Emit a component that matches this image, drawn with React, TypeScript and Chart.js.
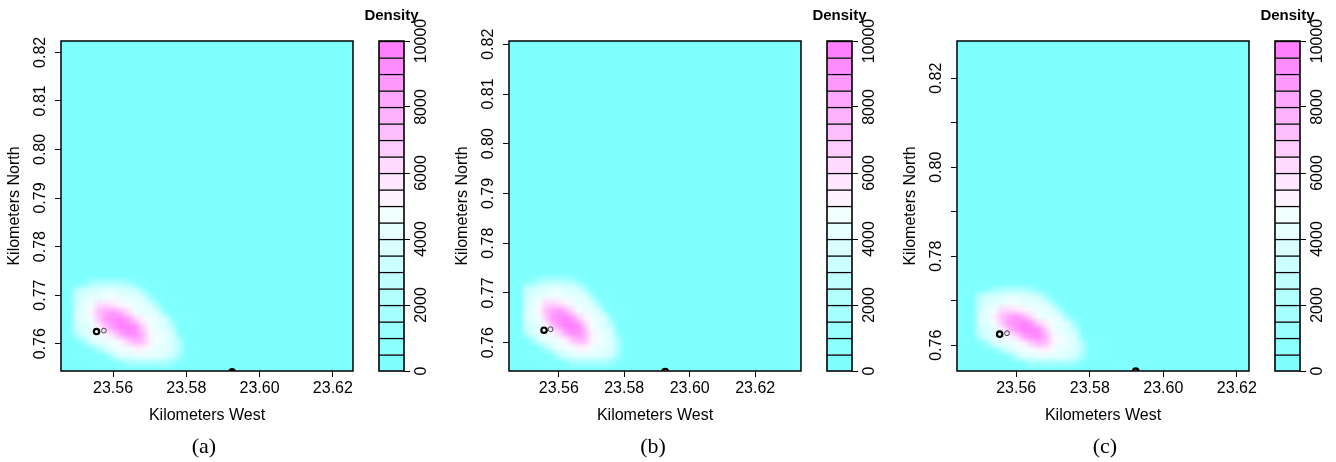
import React, { useEffect, useRef } from 'react';
import { Chart, registerables } from 'chart.js';

Chart.register(...registerables);

const SANS = "'Liberation Sans', Arial, Helvetica, sans-serif";
const SERIF = "'Liberation Serif', 'Times New Roman', serif";

// ---------------- data ----------------
const PANEL_TAGS = ['(a)', '(b)', '(c)'];

// axis limits (km) of each panel
const X_LIMITS = [
  [23.5458, 23.6255],
  [23.5448, 23.634],
  [23.5439, 23.6233],
];
const Y_LIMITS = [
  [0.75438, 0.82233],
  [0.7543, 0.82066],
  [0.75422, 0.82838],
];

const X_TICKS = [23.56, 23.58, 23.6, 23.62];
const X_TICK_LABELS = ['23.56', '23.58', '23.60', '23.62'];
const Y_TICKS = [0.76, 0.77, 0.78, 0.79, 0.8, 0.81, 0.82];
const Y_TICK_LABELS = [
  ['0.76', '0.77', '0.78', '0.79', '0.80', '0.81', '0.82'],
  ['0.76', '0.77', '0.78', '0.79', '0.80', '0.81', '0.82'],
  ['0.76', '', '0.78', '', '0.80', '', '0.82'],
];

// colour key
const DENSITY_BREAKS = [
  0, 500, 1000, 1500, 2000, 2500, 3000, 3500, 4000, 4500, 5000,
  5500, 6000, 6500, 7000, 7500, 8000, 8500, 9000, 9500, 10000,
];
const DENSITY_TICKS = [0, 2000, 4000, 6000, 8000, 10000];
const DENSITY_COLORS = [
  '#80FFFF', '#8CFFFF', '#99FFFF', '#A6FFFF', '#B3FFFF',
  '#BFFFFF', '#CCFFFF', '#D9FFFF', '#E6FFFF', '#F2FFFF',
  '#FFF2FF', '#FFE6FF', '#FFD9FF', '#FFCCFF', '#FFBFFF',
  '#FFB3FF', '#FFA6FF', '#FF99FF', '#FF8CFF', '#FF80FF',
];

// density surface: cell centres (km) and values (thousands)
const GRID_X = [
  23.548, 23.55, 23.552, 23.554, 23.556, 23.558, 23.56, 23.562, 23.564,
  23.566, 23.568, 23.57, 23.572, 23.574, 23.576, 23.578, 23.58,
];
const GRID_Y = [
  0.774, 0.7725, 0.771, 0.7695, 0.768, 0.7665, 0.765,
  0.7635, 0.762, 0.7605, 0.759, 0.7575, 0.756, 0.7545,
];
const DENSITY_K = [
  [0, 0, 0, 0, 0, 0, 0, 0, 0, 0, 0, 0, 0, 0, 0, 0, 0],
  [0, 0, 0.5, 1.5, 2, 2, 2, 2, 1.5, 0.5, 0, 0, 0, 0, 0, 0, 0],
  [0, 2.5, 3.4, 3.8, 3.9, 4.0, 4.0, 3.9, 3.8, 3.4, 1.5, 0, 0, 0, 0, 0, 0],
  [0, 3.2, 3.8, 4.1, 4.3, 4.5, 4.5, 4.4, 4.2, 4.0, 3.6, 1.5, 0, 0, 0, 0, 0],
  [0, 3.4, 4.0, 4.5, 6.0, 6.3, 5.8, 5.2, 4.6, 4.3, 4.0, 3.5, 1.5, 0, 0, 0, 0],
  [0, 3.5, 4.1, 5.2, 7.4, 8.4, 8.5, 7.6, 6.0, 4.8, 4.4, 4.0, 3.5, 1, 0, 0, 0],
  [0, 3.5, 4.0, 4.8, 6.6, 8.8, 9.4, 9.5, 8.9, 6.8, 5.3, 4.5, 4.1, 3.5, 1, 0, 0],
  [0, 3.2, 3.9, 4.4, 5.4, 7.0, 8.9, 9.6, 9.6, 9.0, 6.6, 4.9, 4.4, 3.9, 2.5, 0, 0],
  [0, 2.5, 3.6, 4.1, 4.5, 5.0, 6.2, 8.3, 9.2, 9.1, 7.8, 5.4, 4.5, 4.1, 3.5, 0.5, 0],
  [0, 0, 1.5, 3.5, 4.0, 4.4, 4.8, 5.4, 6.6, 7.6, 7.0, 5.2, 4.5, 4.1, 3.7, 2, 0],
  [0, 0, 0, 0.5, 2.0, 3.6, 4.1, 4.5, 4.9, 5.4, 5.2, 4.6, 4.3, 4.0, 3.6, 2, 0],
  [0, 0, 0, 0, 0, 0.5, 2.5, 3.6, 3.9, 4.1, 4.2, 4.1, 4.0, 3.8, 3.3, 1.5, 0],
  [0, 0, 0, 0, 0, 0, 0, 0.5, 1.5, 1.5, 1.5, 1.5, 1.5, 1.5, 1, 0, 0],
  [0, 0, 0, 0, 0, 0, 0, 0, 0, 0, 0, 0, 0, 0, 0, 0, 0],
];

// marked locations (km)
const RING_X = [23.5555];
const RING_Y = [0.7625];
const SMALL_X = [23.5575];
const SMALL_Y = [0.7627];
const EDGE_X = [23.5925];
const EDGE_Y = [0.7542];

// ---------------- layout ----------------
const PLOT_LEFT = [61, 509, 957];
const BAR_LEFT = [379, 827, 1275];
const TAG_CENTER = [204, 653, 1105];
const HEAT_W = 365;
const BAR_PAD = 32;
const BAR_W = 25;
const CANVAS_H = 462;

function densityColor(v: number): string {
  for (let k = DENSITY_COLORS.length - 1; k >= 0; k--) {
    if (v >= DENSITY_BREAKS[k]) return DENSITY_COLORS[k];
  }
  return DENSITY_COLORS[0];
}

const densityField = {
  id: 'densityField',
  beforeDatasetsDraw(chart: any) {
    const { ctx, chartArea: a } = chart;
    const xs = chart.scales.x;
    const ys = chart.scales.y;
    ctx.save();
    ctx.beginPath();
    ctx.rect(a.left, a.top, a.right - a.left, a.bottom - a.top);
    ctx.clip();
    ctx.fillStyle = DENSITY_COLORS[0];
    ctx.fillRect(a.left, a.top, a.right - a.left, a.bottom - a.top);

    const raster = document.createElement('canvas');
    raster.width = GRID_X.length;
    raster.height = GRID_Y.length;
    const rc = raster.getContext('2d')!;
    DENSITY_K.forEach((row, j) =>
      row.forEach((d, i) => {
        rc.fillStyle = densityColor(d * 1000);
        rc.fillRect(i, j, 1, 1);
      })
    );
    const hx = (GRID_X[1] - GRID_X[0]) / 2;
    const hy = (GRID_Y[0] - GRID_Y[1]) / 2;
    const x0 = xs.getPixelForValue(GRID_X[0] - hx);
    const x1 = xs.getPixelForValue(GRID_X[GRID_X.length - 1] + hx);
    const y0 = ys.getPixelForValue(GRID_Y[0] + hy);
    const y1 = ys.getPixelForValue(GRID_Y[GRID_Y.length - 1] - hy);
    ctx.imageSmoothingEnabled = true;
    ctx.drawImage(raster, x0, y0, x1 - x0, y1 - y0);
    ctx.restore();
  },
};

const frame = {
  id: 'frame',
  afterDatasetsDraw(chart: any, _args: any, opts: any) {
    const { ctx, chartArea: a } = chart;
    ctx.save();
    ctx.strokeStyle = '#000';
    ctx.lineWidth = opts && opts.width ? opts.width : 1.5;
    ctx.strokeRect(a.left, a.top, a.right - a.left, a.bottom - a.top);
    ctx.restore();
  },
};

const tickFont = { family: SANS, size: 16 };
const tickGrid = {
  drawOnChartArea: false,
  drawTicks: true,
  tickLength: 6,
  color: '#000',
  lineWidth: 1,
};

function markerSet(xs: number[], ys: number[], radius: number, width: number, color: string) {
  return {
    data: xs.map((x, i) => ({ x, y: ys[i] })),
    pointStyle: 'circle',
    pointRadius: radius,
    pointBorderWidth: width,
    borderColor: color,
    backgroundColor: 'rgba(0,0,0,0)',
    clip: 0,
  };
}

function heatConfig(p: number): any {
  return {
    type: 'scatter',
    data: {
      datasets: [
        markerSet(RING_X, RING_Y, 2.7, 2.2, '#000'),
        markerSet(SMALL_X, SMALL_Y, 2.4, 0.9, '#333'),
        markerSet(EDGE_X, EDGE_Y, 2.6, 2.4, '#000'),
      ],
    },
    options: {
      animation: false,
      responsive: false,
      devicePixelRatio: 1,
      events: [],
      layout: { padding: { left: 0, top: 41, right: 12, bottom: 0 } },
      plugins: {
        legend: { display: false },
        tooltip: { enabled: false },
        frame: { width: 1.5 },
      },
      scales: {
        x: {
          type: 'linear',
          min: X_LIMITS[p][0],
          max: X_LIMITS[p][1],
          afterBuildTicks: (s: any) => {
            s.ticks = X_TICKS.map((value) => ({ value }));
          },
          afterFit: (s: any) => {
            s.height = 91;
            s.paddingLeft = 0;
            s.paddingRight = 0;
          },
          ticks: {
            font: tickFont,
            color: '#000',
            padding: 1.5,
            maxRotation: 0,
            minRotation: 0,
            autoSkip: false,
            callback: (_v: any, i: number) => X_TICK_LABELS[i],
          },
          grid: tickGrid,
          border: { display: false },
          title: {
            display: true,
            text: 'Kilometers West',
            font: tickFont,
            color: '#000',
            padding: { top: 0, bottom: 36.5 },
          },
        },
        y: {
          type: 'linear',
          min: Y_LIMITS[p][0],
          max: Y_LIMITS[p][1],
          afterBuildTicks: (s: any) => {
            s.ticks = Y_TICKS.map((value) => ({ value }));
          },
          afterFit: (s: any) => {
            s.width = 61;
            s.paddingTop = 0;
            s.paddingBottom = 0;
          },
          ticks: {
            font: tickFont,
            color: '#000',
            minRotation: 90,
            maxRotation: 90,
            crossAlign: 'center',
            padding: -1.1,
            autoSkip: false,
            callback: (_v: any, i: number) => Y_TICK_LABELS[p][i],
          },
          grid: tickGrid,
          border: { display: false },
          title: {
            display: true,
            text: 'Kilometers North',
            font: tickFont,
            color: '#000',
            padding: { top: 5, bottom: 0 },
          },
        },
      },
    },
    plugins: [densityField, frame],
  };
}

function keyConfig(): any {
  return {
    type: 'bar',
    data: {
      labels: [''],
      datasets: DENSITY_COLORS.map((c, k) => ({
        data: [[DENSITY_BREAKS[k], DENSITY_BREAKS[k + 1]]],
        backgroundColor: c,
        borderColor: '#000',
        borderWidth: { top: 1.5, right: 0, bottom: 0, left: 0 },
        borderSkipped: false,
        grouped: false,
        barPercentage: 1,
        categoryPercentage: 1,
        xAxisID: 'x',
        yAxisID: 'y',
      })),
    },
    options: {
      animation: false,
      responsive: false,
      devicePixelRatio: 1,
      events: [],
      layout: { padding: { left: 0, top: 0, right: 0, bottom: 91 } },
      plugins: {
        legend: { display: false },
        tooltip: { enabled: false },
        frame: { width: 1.6 },
        title: {
          display: true,
          text: 'Density',
          color: '#000',
          font: { family: SANS, size: 15, weight: 'bold' },
          padding: { top: 6.5, bottom: 16.5 },
        },
      },
      scales: {
        x: { type: 'category', display: false },
        pad: {
          type: 'linear',
          axis: 'y',
          position: 'left',
          display: true,
          ticks: { display: false },
          grid: { display: false },
          border: { display: false },
          afterFit: (s: any) => {
            s.width = BAR_PAD;
            s.paddingTop = 0;
            s.paddingBottom = 0;
          },
        },
        y: {
          type: 'linear',
          position: 'right',
          min: 0,
          max: 10000,
          afterBuildTicks: (s: any) => {
            s.ticks = DENSITY_TICKS.map((value) => ({ value }));
          },
          afterFit: (s: any) => {
            s.width = BAR_PAD;
            s.paddingTop = 0;
            s.paddingBottom = 0;
          },
          ticks: {
            font: tickFont,
            color: '#000',
            minRotation: 90,
            maxRotation: 90,
            crossAlign: 'center',
            padding: -10.2,
            autoSkip: false,
            callback: (v: any) => String(v),
          },
          grid: tickGrid,
          border: { display: false },
        },
      },
    },
    plugins: [frame],
  };
}

function ChartCanvas(props: { make: () => any; left: number; width: number }) {
  const ref = useRef<HTMLCanvasElement>(null);
  useEffect(() => {
    const chart = new Chart(ref.current as HTMLCanvasElement, props.make());
    return () => chart.destroy();
  }, []);
  return (
    <canvas
      ref={ref}
      width={props.width}
      height={CANVAS_H}
      style={{
        position: 'absolute',
        left: props.left,
        top: 0,
        width: props.width,
        height: CANVAS_H,
      }}
    />
  );
}

export default function App() {
  return (
    <div
      style={{
        position: 'absolute',
        left: 0,
        top: 0,
        width: 1336,
        height: 462,
        overflow: 'hidden',
        background: '#fff',
      }}
    >
      {PANEL_TAGS.map((tag, p) => (
        <React.Fragment key={tag}>
          <ChartCanvas make={() => heatConfig(p)} left={PLOT_LEFT[p] - 61} width={HEAT_W} />
          <ChartCanvas make={() => keyConfig()} left={BAR_LEFT[p] - BAR_PAD} width={BAR_PAD * 2 + BAR_W} />
          <div
            style={{
              position: 'absolute',
              left: TAG_CENTER[p] - 40,
              width: 80,
              top: 433,
              textAlign: 'center',
              fontFamily: SERIF,
              fontSize: 22,
              lineHeight: '26px',
              color: '#000',
            }}
          >
            {tag}
          </div>
        </React.Fragment>
      ))}
    </div>
  );
}
